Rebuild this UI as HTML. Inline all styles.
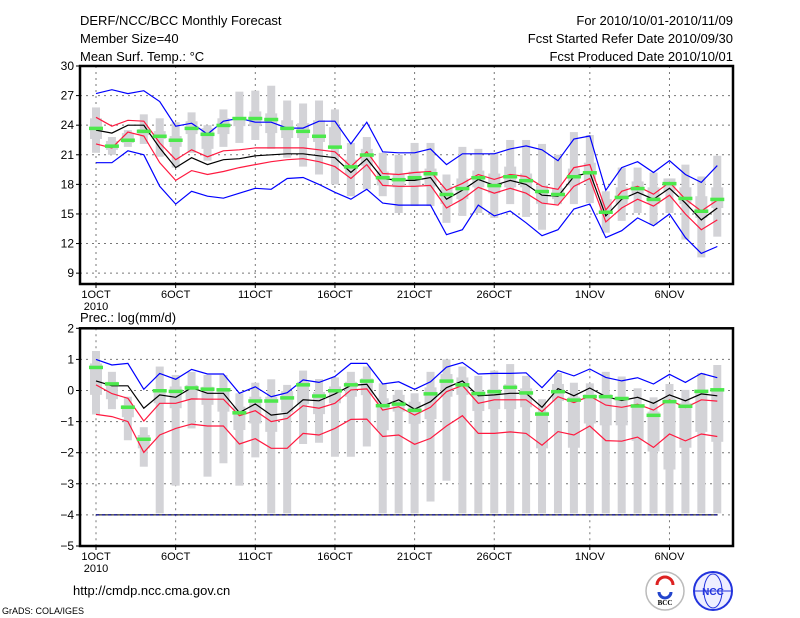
<!DOCTYPE html>
<html><head><meta charset="utf-8"><style>
html,body{margin:0;padding:0;background:#fff;}
svg{display:block;font-family:"Liberation Sans",sans-serif;}
</style></head><body>
<svg id="chart" width="800" height="618" viewBox="0 0 800 618">
<text x="80" y="25" font-size="13">DERF/NCC/BCC Monthly Forecast</text>
<text x="80" y="43" font-size="13">Member Size=40</text>
<text x="80" y="61" font-size="13">Mean Surf. Temp.: °C</text>
<text x="733" y="25" font-size="13" text-anchor="end">For 2010/10/01-2010/11/09</text>
<text x="733" y="43" font-size="13" text-anchor="end">Fcst Started Refer Date 2010/09/30</text>
<text x="733" y="61" font-size="13" text-anchor="end">Fcst Produced Date 2010/10/01</text>
<text x="80" y="322" font-size="13">Prec.: log(mm/d)</text>
<text x="73" y="595" font-size="13">http://cmdp.ncc.cma.gov.cn</text>
<text x="2" y="614" font-size="9">GrADS: COLA/IGES</text>
<g>
<circle cx="665" cy="591" r="19" fill="#fff" stroke="#bbb" stroke-width="1.5"/>
<path d="M657 585 a8 8 0 1 1 16 0" fill="none" stroke="#d22" stroke-width="3"/>
<path d="M659 592 a6 6 0 1 0 12 0" fill="none" stroke="#24c" stroke-width="3"/>
<text x="665" y="605" font-size="7" text-anchor="middle" font-family="Liberation Serif,serif" font-weight="bold">BCC</text>
</g>
<g>
<circle cx="713" cy="591" r="19" fill="#eef" stroke="#23d" stroke-width="2"/>
<ellipse cx="713" cy="591" rx="9" ry="17" fill="none" stroke="#23d"/>
<line x1="695" y1="591" x2="731" y2="591" stroke="#23d"/>
<text x="713" y="595" font-size="10" text-anchor="middle" fill="#23d" font-weight="bold">NCC</text>
</g>
</svg>
<script>
const days = [];
for (let i = 0; i < 40; i++) days.push(i);
const xTickDays = [0,5,10,15,20,25,31,36];
const xTickLabels = ["1OCT","6OCT","11OCT","16OCT","21OCT","26OCT","1NOV","6NOV"];
// temperature panel
const tYTicks = [9,12,15,18,21,24,27,30];
const tMax = [25.8,22.8,23.5,25.1,24.7,24.3,25.3,24.0,25.6,27.4,27.5,28.0,26.5,26.2,26.5,25.6,22.2,22.8,21.2,21.0,22.2,22.2,19.0,21.8,21.6,21.2,22.5,22.5,22.1,21.0,23.3,23.0,17.3,19.7,19.7,19.2,18.6,20.0,18.8,20.9];
const tMin = [21.2,21.0,21.8,22.1,20.8,19.7,21.2,20.4,21.8,22.2,22.5,21.6,20.7,19.8,19.0,18.0,16.8,17.5,16.8,15.1,15.8,15.8,14.1,14.8,15.1,14.6,16.0,14.7,13.4,16.0,16.0,16.1,13.1,14.3,15.1,13.9,15.1,12.4,10.6,12.7];
const tQ3 = [24.7,22.4,23.2,23.6,23.4,22.9,24.4,23.7,24.7,24.7,25.4,25.2,24.5,24.2,24.5,23.8,20.5,21.6,19.3,19.0,19.3,19.6,17.8,18.6,19.4,19.1,19.8,19.1,17.9,17.6,19.6,20.2,16.5,17.7,18.3,17.7,18.6,17.7,16.8,17.7];
const tQ1 = [22.6,21.5,22.2,23.0,22.6,21.8,23.1,21.6,23.1,23.9,23.9,23.2,22.7,22.7,22.3,21.8,19.0,19.9,17.9,17.7,17.9,17.8,16.0,16.5,17.7,17.1,17.7,17.7,16.0,16.5,17.9,18.3,15.3,16.0,16.9,16.0,17.3,16.0,14.6,15.6];
const tMean = [23.7,21.9,22.5,23.4,22.9,22.5,23.7,23.1,24.0,24.7,24.7,24.6,23.7,23.4,22.9,21.8,19.8,21.0,18.7,18.5,18.7,19.1,17.0,17.6,18.7,17.9,18.8,18.4,17.3,17.0,18.8,19.2,15.2,16.7,17.6,16.5,18.1,16.6,15.3,16.5];
const tEns = [23.5,23.2,24.0,24.0,21.7,19.7,20.7,20.0,20.5,20.6,20.9,21.0,21.1,21.1,20.9,20.7,19.2,20.6,18.6,18.4,18.4,18.7,16.5,17.4,18.5,17.9,18.4,18.0,16.9,16.8,18.8,19.2,14.8,16.5,17.2,16.5,17.6,16.1,14.4,15.6];
const tRedHi = [24.8,23.9,24.5,24.4,22.2,20.5,21.5,20.8,21.4,21.5,21.7,21.7,21.7,21.7,21.5,21.3,19.8,21.3,19.1,19.0,19.2,19.3,17.4,18.1,19.0,18.5,19.0,18.8,17.8,17.5,19.7,20.0,15.4,17.3,17.8,17.0,18.2,16.5,15.3,16.4];
const tRedLo = [22.1,21.7,23.3,22.9,20.2,18.4,19.4,19.0,19.3,19.7,20.0,20.3,20.5,20.6,20.3,19.8,18.6,20.0,17.9,17.8,17.8,17.9,15.6,16.5,17.7,17.1,17.6,17.1,16.1,15.9,17.8,18.6,14.2,15.6,16.5,15.8,16.9,15.0,13.4,14.4];
const tBlueHi = [27.2,27.6,27.2,27.5,26.4,23.9,24.2,23.1,24.4,24.7,24.3,24.3,23.7,23.7,24.4,24.4,22.1,24.3,21.3,21.2,21.2,21.6,20.0,21.1,21.1,21.1,21.6,21.9,21.5,20.4,22.6,22.9,17.4,19.7,20.3,19.2,20.4,19.0,18.2,19.9];
const tBlueLo = [20.2,20.2,21.4,21.0,17.8,16.0,17.3,16.8,16.6,17.1,17.6,17.5,18.6,18.7,18.0,17.2,16.5,17.5,16.1,15.9,15.9,15.9,12.9,13.4,15.9,14.8,15.3,14.1,12.8,13.4,15.5,16.0,12.6,13.3,14.6,13.8,15.0,12.6,11.0,11.7];
// precipitation panel
const pYTicks = [-5,-4,-3,-2,-1,0,1,2];
const pMax = [1.27,0.6,-0.2,-1.18,0.77,0.5,0.6,0.5,0.5,-0.09,0.25,0.36,0.18,0.64,0.37,0.42,0.6,0.77,0.23,0.02,-0.09,0.6,1.0,0.77,0.47,0.64,0.85,0.47,-0.28,0.56,0.25,0.23,0.6,0.45,0.07,-0.22,0.21,0.02,0.56,0.82];
const pMin = [-0.77,-0.6,-1.6,-2.45,-3.95,-3.06,-1.22,-2.77,-2.34,-3.06,-2.15,-3.95,-3.95,-1.72,-1.68,-2.13,-2.13,-1.8,-3.95,-3.95,-3.95,-3.57,-2.9,-3.95,-3.95,-3.95,-3.95,-3.95,-3.95,-3.95,-3.95,-3.95,-3.95,-3.95,-3.95,-3.95,-3.95,-3.95,-3.95,-3.95];
const pQ3 = [0.87,0.28,-0.47,-1.43,0.02,0.13,0.18,0.12,0.07,-0.52,-0.2,-0.2,-0.02,0.28,-0.05,0.13,0.28,0.39,-0.25,-0.14,-0.36,0.1,0.53,0.42,-0.01,0.04,0.2,0.07,-0.68,0.21,-0.2,-0.12,-0.12,-0.2,-0.44,-0.68,-0.25,-0.41,0.0,0.06];
const pQ1 = [-0.14,-0.28,-0.86,-1.86,-0.41,-0.57,-0.3,-0.46,-0.68,-1.27,-1.06,-1.33,-0.7,-0.44,-0.76,-0.41,-0.2,-0.15,-1.28,-0.68,-1.07,-0.92,-0.2,-0.14,-0.66,-0.6,-0.6,-0.54,-1.86,-0.34,-1.84,-1.06,-1.12,-1.12,-1.62,-1.96,-2.54,-1.84,-1.33,-1.65];
const pMean = [0.75,0.22,-0.53,-1.56,0.0,-0.02,0.09,0.05,0.03,-0.71,-0.33,-0.33,-0.23,0.19,-0.17,0.0,0.19,0.31,-0.48,-0.43,-0.63,-0.1,0.31,0.19,-0.09,-0.03,0.11,-0.07,-0.75,-0.03,-0.3,-0.19,-0.19,-0.25,-0.49,-0.79,-0.35,-0.5,-0.02,0.03];
const pEns = [0.31,0.15,0.15,-0.57,-0.14,-0.22,0.09,-0.09,-0.09,-0.71,-0.43,-0.79,-0.73,-0.3,-0.33,-0.11,0.16,0.2,-0.5,-0.3,-0.6,-0.36,0.09,0.31,-0.17,-0.14,-0.09,-0.09,-0.54,0.06,-0.17,0.08,-0.2,-0.32,-0.22,-0.41,-0.14,-0.33,-0.11,-0.17];
const pRedHi = [0.18,-0.1,-0.25,-0.98,-0.41,-0.41,-0.27,-0.28,-0.28,-0.81,-0.65,-1.0,-0.9,-0.49,-0.57,-0.41,0.02,0.05,-0.63,-0.52,-0.79,-0.54,-0.04,0.16,-0.41,-0.3,-0.3,-0.3,-0.68,-0.2,-0.39,-0.18,-0.47,-0.54,-0.44,-0.63,-0.3,-0.55,-0.3,-0.34];
const pRedLo = [-0.77,-0.84,-1.0,-1.99,-1.43,-1.22,-1.08,-1.14,-1.14,-1.72,-1.55,-1.86,-1.86,-1.38,-1.43,-1.22,-0.93,-0.92,-1.48,-1.43,-1.73,-1.54,-1.14,-0.81,-1.38,-1.38,-1.33,-1.38,-1.76,-1.32,-1.43,-1.14,-1.61,-1.63,-1.5,-1.83,-1.4,-1.62,-1.4,-1.48];
const pBlueHi = [1.0,0.82,0.87,0.04,0.55,0.36,0.68,0.53,0.53,-0.09,0.12,-0.2,-0.07,0.34,0.26,0.45,0.87,0.87,0.21,0.28,0.04,0.28,0.75,0.9,0.53,0.55,0.55,0.57,0.09,0.64,0.47,0.69,0.42,0.31,0.41,0.21,0.52,0.26,0.55,0.41];
const pBlueLo = [-4,-4,-4,-4,-4,-4,-4,-4,-4,-4,-4,-4,-4,-4,-4,-4,-4,-4,-4,-4,-4,-4,-4,-4,-4,-4,-4,-4,-4,-4,-4,-4,-4,-4,-4,-4,-4,-4,-4,-4];

const NS = "http://www.w3.org/2000/svg";
const svg = document.getElementById("chart");
const X0 = 80, X1 = 733;
function xScale(d){ return 96 + d * 15.93; }
function mk(tag, attrs, parent){
  const e = document.createElementNS(NS, tag);
  for (const k in attrs) e.setAttribute(k, attrs[k]);
  (parent || svg).appendChild(e);
  return e;
}
function panel(key, top, bottom, vMin, vMax, yTicks, S){
  const yScale = v => top + (vMax - v) / (vMax - vMin) * (bottom - top);
  const g = mk("g", {});
  
  
  yTicks.forEach(t => {
    const y = yScale(t);
    if (t !== vMin && t !== vMax) {
      const l = mk("line", {x1:X0, x2:X1, y1:y, y2:y, stroke:"#777", "stroke-width":1, "stroke-dasharray":"2,4"}, g);
      
      
    }
    mk("line", {x1:X0-4, x2:X0, y1:y, y2:y, stroke:"#000", "stroke-width":1}, g);
    const tx = mk("text", {x:X0-6, y:y+4, "font-size":12, "text-anchor":"end"}, g);
    tx.textContent = String(t).replace("-", "\u2212");
    
    
  });
  xTickDays.forEach((d, i) => {
    const x = xScale(d);
    const l = mk("line", {x1:x, x2:x, y1:top, y2:bottom, stroke:"#777", "stroke-width":1, "stroke-dasharray":"2,4"}, g);
    
    
    mk("line", {x1:x, x2:x, y1:bottom, y2:bottom+4, stroke:"#000"}, g);
    const tx = mk("text", {x:x, y:bottom+14, "font-size":11, "text-anchor":"middle"}, g);
    tx.textContent = xTickLabels[i];
    
    
  });
  const yr = mk("text", {x:xScale(0), y:bottom+26, "font-size":11, "text-anchor":"middle"}, g);
  yr.textContent = "2010";
  
  
  days.forEach(d => {
    const x = xScale(d);
    const r = mk("rect", {x:x-4, y:yScale(S.max[d]), width:8, height:yScale(S.min[d])-yScale(S.max[d]), fill:"#d3d3d7"}, g);
    
    
    const b = mk("rect", {x:x-6, y:yScale(S.q3[d]), width:12, height:yScale(S.q1[d])-yScale(S.q3[d]), fill:"#d3d3d7"}, g);
    
    
  });
  function line(arr, color, name, dash, w){
    const pts = days.map(d => xScale(d).toFixed(1) + "," + yScale(arr[d]).toFixed(1)).join(" ");
    const p = mk("polyline", {points:pts, fill:"none", stroke:color, "stroke-width":w || 1.2}, g);
    if (dash) p.setAttribute("stroke-dasharray", dash);
    
    
  }
  line(S.blueHi, "#0000ff", key + "-blue-upper-line");
  if (key === "precip") { line(S.blueLo, "#000", key + "-blue-lower-base", null, 1); line(S.blueLo, "#00008b", key + "-blue-lower-line", "3,3", 1.2); }
  else line(S.blueLo, "#0000ff", key + "-blue-lower-line");
  line(S.redHi, "#ff1a40", key + "-red-upper-line");
  line(S.redLo, "#ff1a40", key + "-red-lower-line");
  line(S.ens, "#000", key + "-ensemble-mean-line");
  days.forEach(d => {
    const m = mk("rect", {x:xScale(d)-7, y:yScale(S.mean[d])-1.5, width:14, height:3.5, fill:"#4ce84c"}, g);
    
    
  });
  const f = mk("rect", {x:X0, y:top, width:X1-X0, height:bottom-top, fill:"none", stroke:"#000", "stroke-width":2.5}, g);
  
  
}
panel("temp", 66, 284, 7.9, 30, tYTicks,
  {max:tMax, min:tMin, q3:tQ3, q1:tQ1, mean:tMean, ens:tEns, redHi:tRedHi, redLo:tRedLo, blueHi:tBlueHi, blueLo:tBlueLo});
panel("precip", 328.3, 546, -5, 2, pYTicks,
  {max:pMax, min:pMin, q3:pQ3, q1:pQ1, mean:pMean, ens:pEns, redHi:pRedHi, redLo:pRedLo, blueHi:pBlueHi, blueLo:pBlueLo});
</script>
</body></html>
